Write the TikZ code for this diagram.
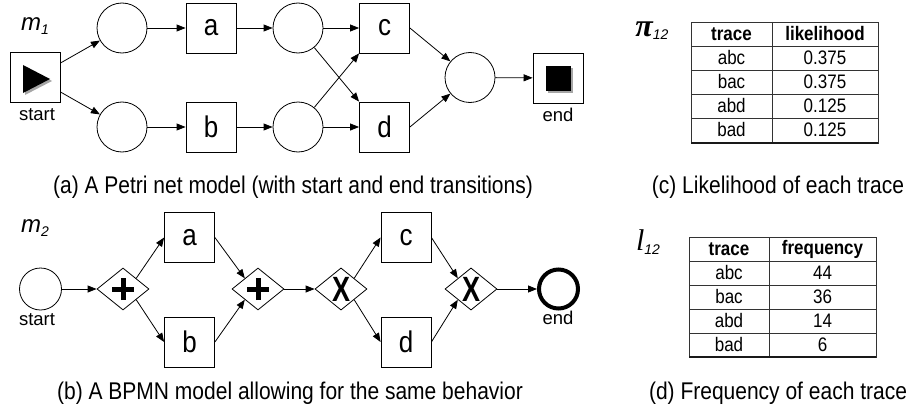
\documentclass[tikz,border=0pt]{standalone}
\usepackage{graphicx}
\usepackage{fontspec}
\setmainfont{Liberation Sans}
\newfontfamily\seriffont{Liberation Serif}
\usetikzlibrary{arrows.meta,shapes.geometric}
\newcommand{\vst}[1]{\scalebox{1}[1.15]{#1}}
\newcommand{\gx}{\scalebox{1}[1.3]{\textbf{X}}}
\begin{document}
\begin{tikzpicture}[x=1pt,y=-1pt,
  every node/.style={font=\fontsize{15.5}{18}\selectfont},
  place/.style={circle,draw,line width=0.8pt,minimum size=50pt,inner sep=0pt},
  trans/.style={rectangle,draw,line width=0.8pt,minimum width=50pt,minimum height=50pt,inner sep=0pt,font=\fontsize{26}{28}\selectfont},
  gate/.style={diamond,draw,line width=0.8pt,minimum width=52pt,minimum height=42pt,inner sep=0pt,font=\fontsize{27}{28}\selectfont\bfseries},
  arc/.style={draw,line width=0.8pt,-{Triangle[length=9pt,width=7pt]}},
  plusbar/.style={line width=5pt},
  lbl/.style={font=\fontsize{18.5}{20}\selectfont,inner sep=0pt},
  capt/.style={font=\fontsize{21}{24}\selectfont,inner sep=0pt},
  cell/.style={font=\fontsize{17}{19}\selectfont,inner sep=0pt},
  hcell/.style={font=\fontsize{17}{19}\selectfont\bfseries,inner sep=0pt},
  tline/.style={line width=0.8pt,black!80},
  tthick/.style={line width=2pt,black!90},
  mlabel/.style={inner sep=0pt,font=\fontsize{24}{26}\selectfont}
]
\useasboundingbox (0,0) rectangle (907,412);

% ---------------- (a) Petri net ----------------
\node[mlabel] (m1) at (35,26) {\textit{m}\raisebox{-4pt}{\fontsize{14}{14}\selectfont\textit{1}}};
\node[trans] (ts) at (35,77.5) {};
\fill[black!35] (25,67) -- (25,95) -- (52,81) -- cycle;
\fill[black] (23,65) -- (23,93) -- (50,79) -- cycle;
\node[lbl] (tsl) at (37,115) {start};
\node[place] (p1) at (122,28) {};
\node[place] (p2) at (122,127) {};
\node[trans] (ta) at (211,28) {\vst{a}};
\node[trans] (tb) at (211,127) {\vst{b}};
\node[place] (p3) at (298,28) {};
\node[place] (p4) at (298,127) {};
\node[trans] (tc) at (384.5,28) {\vst{c}};
\node[trans] (td) at (384.5,127) {\vst{d}};
\node[place] (p5) at (470,77.5) {};
\node[trans] (te) at (558,78) {};
\fill[black!35] (548,68) rectangle (573,93);
\fill[black] (546,66) rectangle (571,91);
\node[lbl] (tel) at (558,115) {end};

\draw[arc] (ts) -- (p1);
\draw[arc] (ts) -- (p2);
\draw[arc] (p1) -- (ta);
\draw[arc] (p2) -- (tb);
\draw[arc] (ta) -- (p3);
\draw[arc] (tb) -- (p4);
\draw[arc] (p3) -- (tc);
\draw[arc] (p4) -- (td);
\draw[arc] (p3) -- (td.north west);
\draw[arc] (p4) -- (tc.south west);
\draw[arc] (tc.east) -- (p5);
\draw[arc] (td.east) -- (p5);
\draw[arc] (p5) -- (te);

\node[capt] (capa) at (293,187) {\vst{(a) A Petri net model (with start and end transitions)}};

% ---------------- (b) BPMN ----------------
\node[mlabel] (m2) at (35,228) {\textit{m}\raisebox{-4pt}{\fontsize{14}{14}\selectfont\textit{2}}};
\node[circle,draw,line width=0.8pt,minimum size=42pt,inner sep=0pt] (bs) at (40.5,289) {};
\node[lbl] (bsl) at (37,320) {start};
\node[gate] (g1) at (123,289) {};
\draw[plusbar] ([xshift=-11pt]g1.center) -- ([xshift=11pt]g1.center);
\draw[plusbar] ([yshift=-11pt]g1.center) -- ([yshift=11pt]g1.center);
\node[trans] (ba) at (189.5,237.5) {\vst{a}};
\node[trans] (bb) at (189.5,342) {\vst{b}};
\node[gate] (g2) at (258,289) {};
\draw[plusbar] ([xshift=-11pt]g2.center) -- ([xshift=11pt]g2.center);
\draw[plusbar] ([yshift=-11pt]g2.center) -- ([yshift=11pt]g2.center);
\node[gate] (g3) at (341,289) {\gx};
\node[trans] (bc) at (406,237.5) {\vst{c}};
\node[trans] (bd) at (406,342) {\vst{d}};
\node[gate] (g4) at (471,289) {\gx};
\node[circle,draw,line width=4pt,minimum size=39pt,inner sep=0pt] (be) at (558.5,289) {};
\node[lbl] (bel) at (558,318) {end};

\draw[arc] (bs) -- (g1);
\draw[arc] (g1.north east) -- (ba.west);
\draw[arc] (g1.south east) -- (bb.west);
\draw[arc] (ba.east) -- (g2.north west);
\draw[arc] (bb.east) -- (g2.south west);
\draw[arc] (g2) -- (g3);
\draw[arc] (g3.north east) -- (bc.west);
\draw[arc] (g3.south east) -- (bd.west);
\draw[arc] (bc.east) -- (g4.north west);
\draw[arc] (bd.east) -- (g4.south west);
\draw[arc] (g4) -- (be);

\node[capt] (capb) at (290,393) {\vst{(b) A BPMN model allowing for the same behavior}};

% ---------------- (c) likelihood table ----------------
\node[inner sep=0pt] (pi) at (652,31) {{\seriffont\itshape\fontsize{32}{32}\selectfont\textbf{π}}\raisebox{-3pt}{\fontsize{14}{14}\selectfont\textit{12}}};
\draw[tline] (691,22) rectangle (878,143);
\foreach \yy in {46,70,94,118} \draw[tline] (691,\yy) -- (878,\yy);
\draw[tline] (772,22) -- (772,143);
\draw[tthick] (691,143) -- (878,143);
\node[hcell] (ch1) at (731.5,34) {\vst{trace}};
\node[hcell] (ch2) at (825,34) {\vst{likelihood}};
\foreach \t/\v [count=\i] in {abc/0.375,bac/0.375,abd/0.125,bad/0.125}{
  \node[cell] (ct\i) at (731.5,{34+24*\i}) {\vst{\t}};
  \node[cell] (cv\i) at (825,{34+24*\i}) {\vst{\v}};
}
\node[capt] (capc) at (778,187) {\vst{(c) Likelihood of each trace}};

% ---------------- (d) frequency table ----------------
\node[inner sep=0pt] (l12) at (648,242) {{\seriffont\itshape\fontsize{30}{30}\selectfont l}\raisebox{-4pt}{\fontsize{14}{14}\selectfont\textit{12}}};
\draw[tline] (689,237) rectangle (876,357);
\foreach \yy in {261,285,309,333} \draw[tline] (689,\yy) -- (876,\yy);
\draw[tline] (769,237) -- (769,357);
\draw[tthick] (689,357) -- (876,357);
\node[hcell] (dh1) at (729,249) {\vst{trace}};
\node[hcell] (dh2) at (822.5,249) {\vst{frequency}};
\foreach \t/\v [count=\i] in {abc/44,bac/36,abd/14,bad/6}{
  \node[cell] (dt\i) at (729,{249+24*\i}) {\vst{\t}};
  \node[cell] (dv\i) at (822.5,{249+24*\i}) {\vst{\v}};
}
\node[capt] (capd) at (778,393) {\vst{(d) Frequency of each trace}};
\end{tikzpicture}
\end{document}
